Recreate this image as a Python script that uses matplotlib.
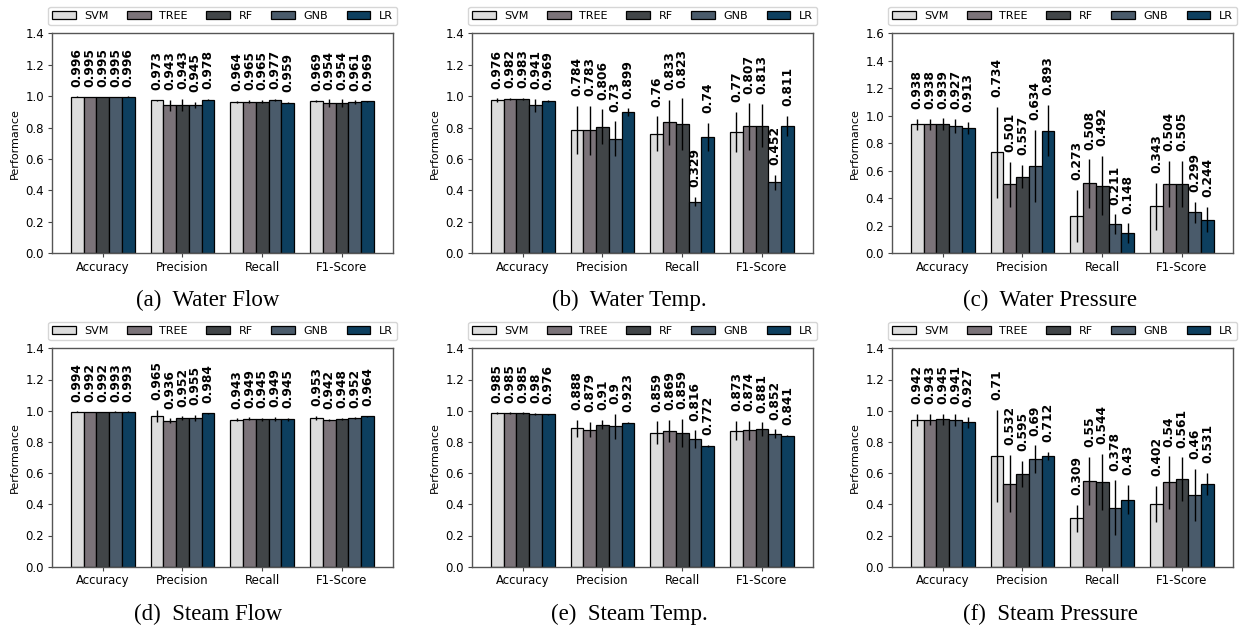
import numpy as np
import matplotlib
matplotlib.use("Agg")
import matplotlib.pyplot as plt

metrics = ["Accuracy", "Precision", "Recall", "F1-Score"]
models = ["SVM", "TREE", "RF", "GNB", "LR"]
colors = ["#dcdcdc", "#7b7379", "#414548", "#4a5b6b", "#0d3f5f"]

# rows = models (SVM, TREE, RF, GNB, LR), cols = metrics
water_flow = [[0.996, 0.973, 0.964, 0.969],
              [0.995, 0.943, 0.965, 0.954],
              [0.995, 0.943, 0.965, 0.954],
              [0.995, 0.945, 0.977, 0.961],
              [0.996, 0.978, 0.959, 0.969]]
water_flow_err = [[0.002, 0.005, 0.008, 0.005],
                  [0.002, 0.035, 0.010, 0.025],
                  [0.002, 0.040, 0.010, 0.025],
                  [0.002, 0.020, 0.005, 0.012],
                  [0.002, 0.003, 0.003, 0.003]]

water_temp = [[0.976, 0.784, 0.76, 0.77],
              [0.982, 0.783, 0.833, 0.807],
              [0.983, 0.806, 0.823, 0.813],
              [0.941, 0.73, 0.329, 0.452],
              [0.969, 0.899, 0.74, 0.811]]
water_temp_err = [[0.010, 0.155, 0.112, 0.128],
                  [0.005, 0.155, 0.144, 0.148],
                  [0.005, 0.110, 0.164, 0.138],
                  [0.040, 0.110, 0.030, 0.047],
                  [0.008, 0.024, 0.088, 0.064]]

water_pressure = [[0.938, 0.734, 0.273, 0.343],
                  [0.938, 0.501, 0.508, 0.504],
                  [0.939, 0.557, 0.492, 0.505],
                  [0.927, 0.634, 0.211, 0.299],
                  [0.913, 0.893, 0.148, 0.244]]
water_pressure_err = [[0.042, 0.333, 0.188, 0.171],
                      [0.042, 0.166, 0.175, 0.168],
                      [0.042, 0.085, 0.215, 0.168],
                      [0.050, 0.263, 0.072, 0.077],
                      [0.042, 0.186, 0.070, 0.092]]

steam_flow = [[0.994, 0.965, 0.943, 0.953],
              [0.992, 0.936, 0.949, 0.942],
              [0.992, 0.952, 0.945, 0.948],
              [0.993, 0.955, 0.949, 0.952],
              [0.993, 0.984, 0.945, 0.964]]
steam_flow_err = [[0.002, 0.040, 0.008, 0.012],
                  [0.002, 0.015, 0.008, 0.008],
                  [0.002, 0.012, 0.010, 0.005],
                  [0.002, 0.018, 0.012, 0.006],
                  [0.002, 0.003, 0.008, 0.005]]

steam_temp = [[0.985, 0.888, 0.859, 0.873],
              [0.985, 0.879, 0.869, 0.874],
              [0.985, 0.91, 0.859, 0.881],
              [0.98, 0.9, 0.816, 0.852],
              [0.976, 0.923, 0.772, 0.841]]
steam_temp_err = [[0.004, 0.054, 0.072, 0.062],
                  [0.004, 0.050, 0.072, 0.060],
                  [0.004, 0.030, 0.090, 0.045],
                  [0.005, 0.082, 0.058, 0.028],
                  [0.003, 0.005, 0.007, 0.004]]

steam_pressure = [[0.942, 0.71, 0.309, 0.402],
                  [0.943, 0.532, 0.55, 0.54],
                  [0.945, 0.595, 0.544, 0.561],
                  [0.941, 0.69, 0.378, 0.46],
                  [0.927, 0.712, 0.43, 0.531]]
steam_pressure_err = [[0.040, 0.295, 0.086, 0.115],
                      [0.035, 0.184, 0.152, 0.168],
                      [0.035, 0.085, 0.178, 0.140],
                      [0.040, 0.088, 0.175, 0.168],
                      [0.035, 0.025, 0.094, 0.072]]

panels = [
    (water_flow, water_flow_err, 1.4, "(a)  Water Flow"),
    (water_temp, water_temp_err, 1.4, "(b)  Water Temp."),
    (water_pressure, water_pressure_err, 1.6, "(c)  Water Pressure"),
    (steam_flow, steam_flow_err, 1.4, "(d)  Steam Flow"),
    (steam_temp, steam_temp_err, 1.4, "(e)  Steam Temp."),
    (steam_pressure, steam_pressure_err, 1.4, "(f)  Steam Pressure"),
]

W, H = 1243, 631
fig = plt.figure(figsize=(W / 100, H / 100), dpi=100)

lefts = [51.7, 471.7, 891.7]
row_geo = [(33.3, 253.3, 300.6), (348.3, 566.7, 614.0)]
caption_x = [208, 629, 1050]
axw = 341.3

x = np.arange(len(metrics))
width = 0.16

for k, (vals, errs, ymax, caption) in enumerate(panels):
    r, c = divmod(k, 3)
    top, bot, cap_y = row_geo[r]
    ax = fig.add_axes([lefts[c] / W, (H - bot) / H, axw / W, (bot - top) / H])
    for i, m in enumerate(models):
        bars = ax.bar(x + (i - 2) * width, vals[i], width, yerr=errs[i],
                      color=colors[i], edgecolor="black", linewidth=0.9,
                      label=m, error_kw=dict(ecolor="black", elinewidth=1.0, capsize=0))
        ax.bar_label(bars, rotation=90, padding=7, fontsize=8.8,
                     fontweight="bold")
    ax.set_xlim(-0.64, 3.64)
    ax.set_ylim(0, ymax)
    ticks = np.arange(0, ymax + 0.001, 0.2)
    ax.set_yticks(ticks)
    ax.set_yticklabels([f"{v:.1f}" for v in ticks])
    ax.set_xticks(x)
    ax.set_xticklabels(metrics)
    ax.tick_params(labelsize=8.5, length=3, color="#444444", pad=2.5)
    ax.set_ylabel("Performance", fontsize=8, labelpad=4)
    for s in ax.spines.values():
        s.set_color("#555555")
        s.set_linewidth(1.0)
    ax.legend(loc="lower left", bbox_to_anchor=(-0.01, 1.038, 1.021, 0.083),
              mode="expand", ncol=5, borderaxespad=0, fontsize=8,
              handlelength=2.1, handleheight=0.7, framealpha=0.8,
              borderpad=0.35)
    fig.text(caption_x[c] / W, (H - cap_y) / H, caption, ha="center", va="center",
             fontsize=16.5, family="Liberation Serif")

fig.savefig("out.png", dpi=100)
